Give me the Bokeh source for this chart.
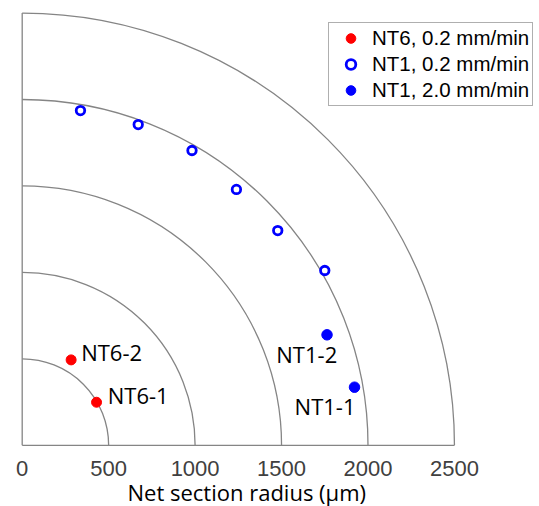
import math
from bokeh.plotting import figure
from bokeh.models import FixedTicker, Legend, LegendItem, ColumnDataSource, Title
from bokeh.core.properties import value
from bokeh.embed import file_html
from bokeh.resources import INLINE

# ---- data ----
radii = [500, 1000, 1500, 2000, 2500]
x_ticks = [0, 500, 1000, 1500, 2000, 2500]

nt6_labels = ["NT6-1", "NT6-2"]
nt6_x = [430, 283]
nt6_y = [249, 494]

nt1_slow_x = [337, 671, 982, 1239, 1478, 1750]
nt1_slow_y = [1936, 1855, 1705, 1480, 1242, 1011]

nt1_fast_labels = ["NT1-1", "NT1-2"]
nt1_fast_x = [1922, 1763]
nt1_fast_y = [336, 639]

legend_names = ["NT6, 0.2 mm/min", "NT1, 0.2 mm/min", "NT1, 2.0 mm/min"]
x_label = "Net section radius (μm)"

# ---- layout (pixels) ----
W, H = 539, 506
FRAME_H = 446
SCALE = 0.1729          # px per data unit (both axes)
X0_PX = 21.7            # canvas x of data x=0
Y0_PX = 444.8           # canvas y of data y=0

x_start = -X0_PX / SCALE
x_end = (W - X0_PX) / SCALE
y_end = Y0_PX / SCALE
y_start = -(FRAME_H - Y0_PX) / SCALE

GRAY = "#858585"

p = figure(width=W, height=H, output_backend="svg", toolbar_location=None,
           x_range=(x_start, x_end), y_range=(y_start, y_end),
           y_axis_location=None, title=None,
           min_border_left=0, min_border_right=0, min_border_top=0,
           min_border_bottom=H - FRAME_H)
p.outline_line_color = None
p.xgrid.visible = False
p.ygrid.visible = False
p.background_fill_color = "white"
p.border_fill_color = "white"

# quarter circles
p.arc(x=[0] * len(radii), y=[0] * len(radii), radius=radii,
      start_angle=0, end_angle=math.pi / 2,
      line_color=GRAY, line_width=1.3)
# axes lines
p.line(x=[0, 0], y=[0, radii[-1]], line_color=GRAY, line_width=1.3)
p.line(x=[0, radii[-1]], y=[0, 0], line_color=GRAY, line_width=1.3)

r_red = p.scatter(x=nt6_x, y=nt6_y, marker="circle", size=10,
                  fill_color="#ff0000", line_color="#ff0000")
r_open = p.scatter(x=nt1_slow_x, y=nt1_slow_y, marker="circle", size=8.5,
                   fill_color="white", line_color="#0000ff", line_width=2.8)
r_blue = p.scatter(x=nt1_fast_x, y=nt1_fast_y, marker="circle", size=10.5,
                   fill_color="#0000ff", line_color="#0000ff")

# point labels
src6 = ColumnDataSource(dict(x=nt6_x, y=nt6_y, t=nt6_labels,
                             xo=[11.2, 10.0], yo=[-7.0, -7.5]))
p.text(x="x", y="y", text="t", x_offset="xo", y_offset="yo", source=src6,
       text_font=value("Open Sans"), text_font_size="22px",
       text_color="black", text_align="left", text_baseline="middle")
src1 = ColumnDataSource(dict(x=nt1_fast_x, y=nt1_fast_y, t=nt1_fast_labels,
                             xo=[1.0, 10.2], yo=[18.5, 19.0]))
p.text(x="x", y="y", text="t", x_offset="xo", y_offset="yo", source=src1,
       text_font=value("Open Sans"), text_font_size="22px",
       text_color="black", text_align="right", text_baseline="middle")

# x axis
ax = p.xaxis[0]
ax.ticker = FixedTicker(ticks=x_ticks)
ax.axis_line_color = None
ax.major_tick_in = 0
ax.major_tick_out = 0
ax.minor_tick_line_color = None
ax.major_label_text_font = "Liberation Sans"
ax.major_label_text_font_size = "22px"
ax.major_label_text_color = "#404040"
ax.major_label_standoff = 14

p.add_layout(Title(text=x_label, align="left", offset=127,
                   vertical_align="middle", standoff=-6,
                   text_font="Open Sans", text_font_size="22px",
                   text_font_style="normal", text_color="black",
                   text_line_height=0.8), "below")

legend = Legend(items=[LegendItem(label=legend_names[0], renderers=[r_red]),
                       LegendItem(label=legend_names[1], renderers=[r_open]),
                       LegendItem(label=legend_names[2], renderers=[r_blue])],
                location=(328, FRAME_H - 22.3 - 84),
                padding=3, spacing=2, margin=0,
                glyph_width=37, glyph_height=24, label_height=24,
                label_standoff=3,
                label_text_font="Liberation Sans", label_text_font_size="20.5px",
                label_text_color="black",
                border_line_color="#606060", border_line_width=1,
                background_fill_color="white", background_fill_alpha=1.0)
p.add_layout(legend)

open("out.html", "w").write(file_html(p, INLINE))
